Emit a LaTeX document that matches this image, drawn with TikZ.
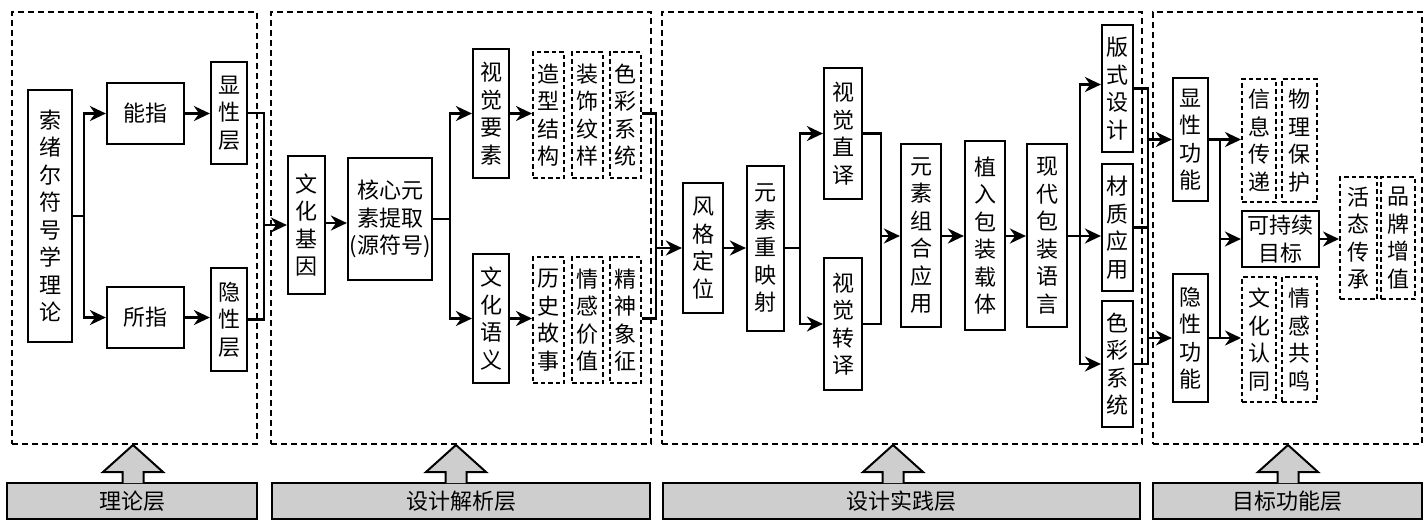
\documentclass[tikz,border=0pt]{standalone}
\usepackage{fontspec}
\setmainfont{Noto Sans CJK SC}
\usetikzlibrary{arrows.meta,calc}
\definecolor{barg}{RGB}{206,206,206}
\newcommand\fsz{\fontsize{22}{27.5}\selectfont}
\newcommand\uparr[1]{\draw[line width=2pt, fill=barg] (#1-10.5,483) -- (#1-10.5,472) -- (#1-30,472) -- (#1,445) -- (#1+30,472) -- (#1+10.5,472) -- (#1+10.5,483);}
\begin{document}
\begin{tikzpicture}[x=1pt,y=-1pt,
 box/.style={draw, line width=2.2pt, inner sep=0pt, align=center, font=\fsz},
 dbox/.style={box, line width=2pt, dash pattern=on 4.5pt off 3pt},
 panel/.style={draw, line width=2pt, dash pattern=on 6pt off 4pt, inner sep=0pt},
 conn/.style={line width=2.7pt},
 arr/.style={conn, -{Stealth[length=16pt,width=15pt]}},
 bar/.style={draw, fill=barg, line width=2pt, inner sep=0pt, font=\fsz}]
\useasboundingbox (0,0) rectangle (1425,523);
% panels
\node[panel, minimum width=245pt, minimum height=432pt] (P1) at (134.5,228) {};
\node[panel, minimum width=380pt, minimum height=432pt] (P2) at (461,228) {};
\node[panel, minimum width=480pt, minimum height=432pt] (P3) at (902,228) {};
\node[panel, minimum width=269pt, minimum height=432pt] (P4) at (1287.5,228) {};
% bottom bars
\node[bar, minimum width=250pt, minimum height=36pt] (B1) at (132,501) {理论层};
\node[bar, minimum width=378pt, minimum height=36pt] (B2) at (461,501) {设计解析层};
\node[bar, minimum width=477pt, minimum height=36pt] (B3) at (901.5,501) {设计实践层};
\node[bar, minimum width=269pt, minimum height=36pt] (B4) at (1287.5,501) {目标功能层};
\uparr{133}
\uparr{456}
\uparr{893}
\uparr{1288}
% panel 1
\node[box, minimum width=44pt, minimum height=252pt] (A) at (50,216) {索\\绪\\尔\\符\\号\\学\\理\\论};
\node[box, minimum width=77pt, minimum height=61pt] (Bn) at (145.5,113.5) {能指};
\node[box, minimum width=77pt, minimum height=61pt] (Cs) at (145.5,317.5) {所指};
\node[box, minimum width=36pt, minimum height=102pt] (D) at (229,113) {显\\性\\层};
\node[box, minimum width=36pt, minimum height=103pt] (E) at (229,319.5) {隐\\性\\层};
% panel 2
\node[box, minimum width=37pt, minimum height=138pt] (F) at (306.5,225) {文\\化\\基\\因};
\node[box, minimum width=84pt, minimum height=122pt] (G) at (390,219) {核心元\\素提取\\(源符号)};
\node[box, minimum width=36pt, minimum height=129pt] (H) at (491,113.5) {视\\觉\\要\\素};
\node[box, minimum width=36pt, minimum height=129pt] (I) at (491,318.5) {文\\化\\语\\义};
\node[dbox, minimum width=31pt, minimum height=126pt] (J1) at (548.5,115) {造\\型\\结\\构};
\node[dbox, minimum width=31pt, minimum height=126pt] (J2) at (587.5,115) {装\\饰\\纹\\样};
\node[dbox, minimum width=31pt, minimum height=126pt] (J3) at (625,115) {色\\彩\\系\\统};
\node[dbox, minimum width=31pt, minimum height=126pt] (K1) at (548.5,320) {历\\史\\故\\事};
\node[dbox, minimum width=31pt, minimum height=126pt] (K2) at (587.5,320) {情\\感\\价\\值};
\node[dbox, minimum width=31pt, minimum height=126pt] (K3) at (625,320) {精\\神\\象\\征};
% panel 3
\node[box, minimum width=40pt, minimum height=130pt] (L) at (703,248) {风\\格\\定\\位};
\node[box, minimum width=37pt, minimum height=165pt] (M) at (765.5,248.5) {元\\素\\重\\映\\射};
\node[box, minimum width=38pt, minimum height=131pt] (N) at (843,133.5) {视\\觉\\直\\译};
\node[box, minimum width=38pt, minimum height=132pt] (O) at (843,324) {视\\觉\\转\\译};
\node[box, minimum width=40pt, minimum height=183pt] (Pq) at (921,235.5) {元\\素\\组\\合\\应\\用};
\node[box, minimum width=40pt, minimum height=189pt] (Q) at (985,235.5) {植\\入\\包\\装\\载\\体};
\node[box, minimum width=40pt, minimum height=183pt] (R) at (1047,235.5) {现\\代\\包\\装\\语\\言};
\node[box, minimum width=31pt, minimum height=127pt] (S1) at (1117.5,88.5) {版\\式\\设\\计};
\node[box, minimum width=31pt, minimum height=127pt] (S2) at (1117.5,227.5) {材\\质\\应\\用};
\node[box, minimum width=31pt, minimum height=126pt] (S3) at (1117.5,364) {色\\彩\\系\\统};
% panel 4
\node[box, minimum width=35pt, minimum height=123pt] (T) at (1190.5,139.5) {显\\性\\功\\能};
\node[box, minimum width=35pt, minimum height=128pt] (U) at (1190.5,338) {隐\\性\\功\\能};
\node[dbox, minimum width=34pt, minimum height=123pt] (V1) at (1259,140.5) {信\\息\\传\\递};
\node[dbox, minimum width=35pt, minimum height=123pt] (V2) at (1299.5,140.5) {物\\理\\保\\护};
\node[box, minimum width=77pt, minimum height=56pt] (W) at (1280.5,239) {可持续\\目标};
\node[dbox, minimum width=34pt, minimum height=125pt] (X1) at (1259,339.5) {文\\化\\认\\同};
\node[dbox, minimum width=35pt, minimum height=125pt] (X2) at (1299.5,339.5) {情\\感\\共\\鸣};
\node[dbox, minimum width=37pt, minimum height=122pt] (Y1) at (1358.5,238) {活\\态\\传\\承};
\node[dbox, minimum width=34pt, minimum height=122pt] (Y2) at (1398,238) {品\\牌\\增\\值};
% junction coordinates
\coordinate (s1) at (84,216);
\coordinate (m1) at (264,225);
\coordinate (s2) at (450,219);
\coordinate (m2) at (656,248);
\coordinate (s3) at (800,248);
\coordinate (m3) at (881,236);
\coordinate (s4) at (1080,236);
\coordinate (j4) at (1148,0);
\coordinate (j5) at (1220,0);
% panel 1 connectors
\draw[conn] (A.east|-s1) -- (s1);
\draw[arr] (s1) |- (Bn.west);
\draw[arr] (s1) |- (Cs.west);
\draw[arr] (Bn.east) -- (D.west|-Bn.east);
\draw[arr] (Cs.east) -- (E.west|-Cs.east);
\draw[conn] (D.east) -| (m1);
\draw[conn] (E.east) -| (m1);
\draw[arr] (m1) -- (F.west|-m1);
% panel 2 connectors
\draw[arr] ($(F.east|-G.east)+(0,4)$) -- ($(G.west)+(0,4)$);
\draw[conn] (G.east) -- (s2);
\draw[arr] (s2) |- (H.west);
\draw[arr] (s2) |- (I.west);
\draw[arr] (H.east) -- (J1.west|-H.east);
\draw[arr] (I.east) -- (K1.west|-I.east);
\draw[conn] (J3.east|-H.east) -| (m2);
\draw[conn] (K3.east|-I.east) -| (m2);
\draw[arr] (m2) -- (L.west|-m2);
% panel 3 connectors
\draw[arr] (L.east) -- (M.west|-L.east);
\draw[conn] (M.east|-s3) -- (s3);
\draw[arr] (s3) |- (N.west);
\draw[arr] (s3) |- (O.west);
\draw[conn] (N.east) -| (m3);
\draw[conn] (O.east) -| (m3);
\draw[arr] (m3) -- (Pq.west|-m3);
\draw[arr] (Pq.east|-m3) -- (Q.west|-m3);
\draw[arr] (Q.east|-m3) -- (R.west|-m3);
\draw[conn] (R.east|-s4) -- (s4);
\draw[arr] (s4) |- ($(S1.west)+(0,-4)$);
\draw[arr] (s4) -- (S2.west|-s4);
\draw[arr] (s4) |- (S3.west);
\draw[conn] (S1.east) -| (j4|-S3.east) -- (S3.east);
\draw[conn] (S2.east) -- (S2.east-|j4);
\draw[arr] (j4|-T.west) -- (T.west);
\draw[arr] (j4|-U.west) -- (U.west);
% panel 4 connectors
\draw[conn] (T.east) -- (T.east-|j5) -- (j5|-U.east) -- (U.east);
\draw[arr] (T.east-|j5) -- (V1.west|-T.east);
\draw[arr] (U.east-|j5) -- (X1.west|-U.east);
\draw[arr] (j5|-W.west) -- (W.west);
\draw[arr] (W.east) -- (Y1.west|-W.east);
\end{tikzpicture}
\end{document}
